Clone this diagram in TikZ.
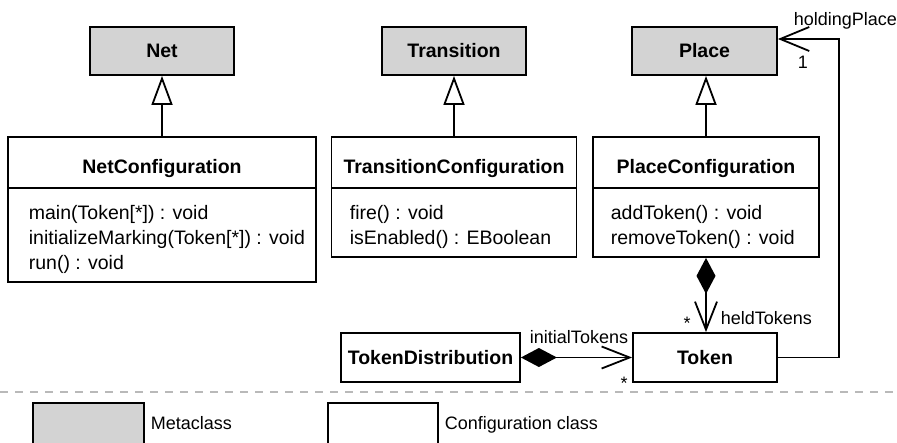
\documentclass[tikz,border=0pt]{standalone}
\usepackage{fontspec}
\setmainfont{Liberation Sans}
\usetikzlibrary{arrows.meta}
\definecolor{metagray}{RGB}{211,211,211}
\definecolor{dashgray}{RGB}{185,185,185}
\begin{document}
\begin{tikzpicture}[x=1pt,y=-1pt,line width=1.8pt,
  box/.style={draw, fill=white, inner sep=0pt},
  meta/.style={box, fill=metagray},
  title/.style={font=\fontsize{19.5}{23}\selectfont\bfseries, anchor=base, inner sep=0pt},
  attr/.style={font=\fontsize{19.5}{23}\selectfont, anchor=base west, inner sep=0pt},
  lbl/.style={font=\fontsize{18}{22}\selectfont, inner sep=0pt},
  gen/.style={-{Triangle[open, length=29pt, width=21pt, fill=white]}},
  comp/.style={{Diamond[length=36pt, width=19pt]}-{Straight Barb[length=28pt, width=22pt]}},
  assoc/.style={-{Straight Barb[length=29pt, width=24pt]}},
  sep/.style={dashgray, line width=1.5pt, dash pattern=on 8pt off 7pt}
]
\useasboundingbox (0,0) rectangle (897,442);
\clip (0,0) rectangle (897,442);

% metaclasses
\node[meta, minimum width=144pt, minimum height=48pt] (net) at (162,51) {\fontsize{19.5}{23}\selectfont\bfseries Net};
\node[meta, minimum width=144pt, minimum height=48pt] (tr) at (454,51) {\fontsize{19.5}{23}\selectfont\bfseries Transition};
\node[meta, minimum width=145pt, minimum height=48pt] (place) at (704.5,51) {\fontsize{19.5}{23}\selectfont\bfseries Place};

% NetConfiguration
\node[box, minimum width=308pt, minimum height=145pt] (nc) at (162,209.5) {};
\draw (8,188) -- (316,188);
\node[title] (ncT) at (162,173) {NetConfiguration};
\node[attr] (nc1) at (28,219) {main(Token[*]) : void};
\node[attr] (nc2) at (28,244) {initializeMarking(Token[*]) : void};
\node[attr] (nc3) at (28,269) {run() : void};

% TransitionConfiguration
\node[box, minimum width=245pt, minimum height=120pt] (tc) at (454,197) {};
\draw (331.5,188) -- (576.5,188);
\node[title] (tcT) at (454,173) {TransitionConfiguration};
\node[attr] (tc1) at (349,219) {fire() : void};
\node[attr] (tc2) at (349,244) {isEnabled() : EBoolean};

% PlaceConfiguration
\node[box, minimum width=226pt, minimum height=120pt] (pc) at (706,197) {};
\draw (593,188) -- (819,188);
\node[title] (pcT) at (706,173) {PlaceConfiguration};
\node[attr] (pc1) at (610,219) {addToken() : void};
\node[attr] (pc2) at (610,244) {removeToken() : void};

% Token classes
\node[box, minimum width=179pt, minimum height=49pt] (td) at (430.5,357.5) {\fontsize{19.5}{23}\selectfont\bfseries TokenDistribution};
\node[box, minimum width=144pt, minimum height=49pt] (token) at (705,357.5) {\fontsize{19.5}{23}\selectfont\bfseries Token};

% generalizations
\draw[gen] (nc.north) -- (net.south);
\draw[gen] (tc.north) -- (tr.south);
\draw[gen] (pc.north) -- (pc.north |- place.south);

% compositions
\draw[comp] (pc.south) -- (pc.south |- token.north);
\draw[comp] (td.east) -- (token.west);

% association to Place
\coordinate (rt) at (839,39);
\draw[assoc] (token.east) -| (rt) -- ([yshift=12pt]place.east);

% labels
\node[lbl, anchor=base west] (hp) at (793,25.5) {holdingPlace};
\node[lbl, anchor=base west] (one) at (797,68) {1};
\node[lbl, anchor=base] (s1) at (687,329) {*};
\node[lbl, anchor=base west] (ht) at (720,324.5) {heldTokens};
\node[lbl, anchor=base] (it) at (579,343) {initialTokens};
\node[lbl, anchor=base] (s2) at (624,389) {*};

% separator
\coordinate (dl) at (0,392);
\coordinate (dr) at (897,392);
\draw[sep] (dl) -- (dr);

% legend
\node[meta, minimum width=111pt, minimum height=60pt, anchor=north west] (lm) at (32,402) {};
\node[lbl, anchor=base west] (lmt) at (150,429.5) {Metaclass};
\node[box, minimum width=110pt, minimum height=60pt, anchor=north west] (lc) at (327,402) {};
\node[lbl, anchor=base west] (lct) at (444,429.5) {Configuration class};
\end{tikzpicture}
\end{document}
